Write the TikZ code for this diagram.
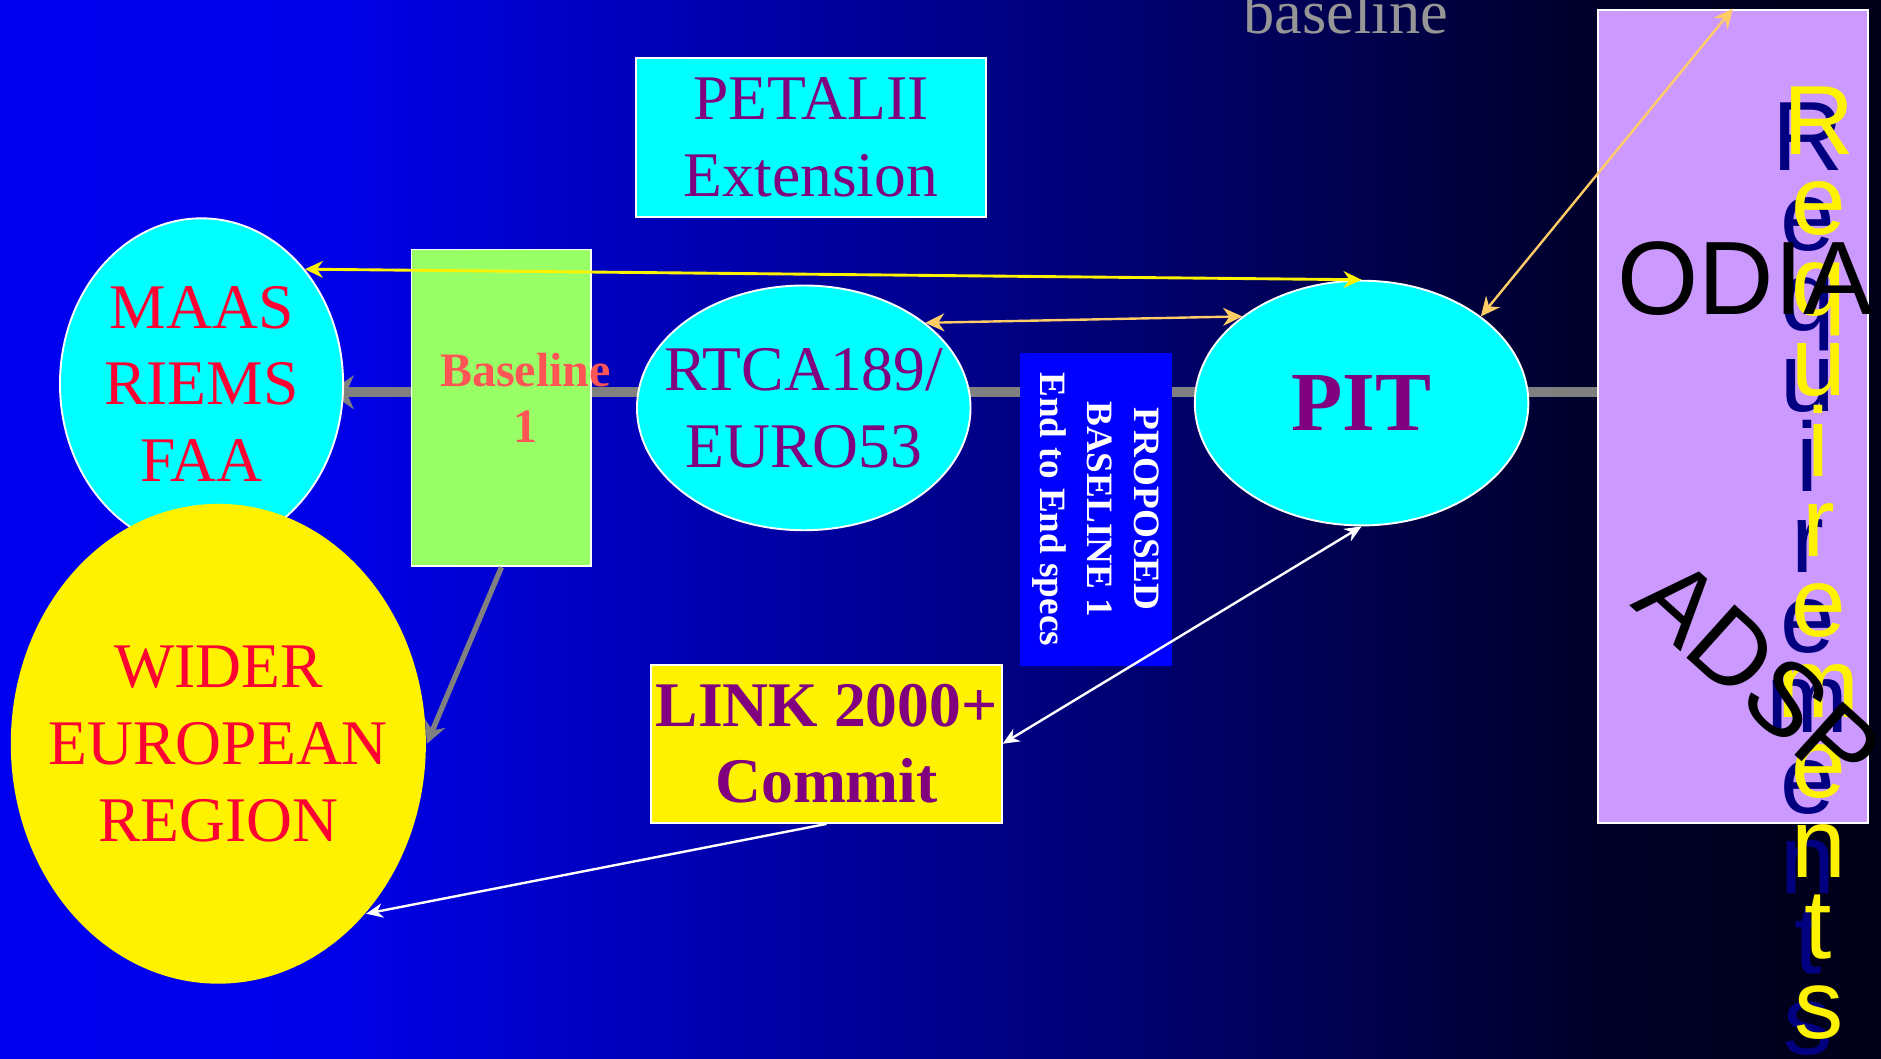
\documentclass[tikz,border=0pt]{standalone}
\usepackage{fontspec}
\setmainfont{Liberation Serif}
\newfontfamily\arialfont{Liberation Sans}
\usetikzlibrary{
    arrows.meta,
    shapes.geometric, % ellipse nodes
    positioning
}

\definecolor{aqua}{RGB}{0,255,255}
\definecolor{plum}{RGB}{128,0,128}
\definecolor{slidered}{RGB}{255,0,51}
\definecolor{salmonred}{RGB}{255,85,85}
\definecolor{limegreen}{RGB}{153,255,102}
\definecolor{lilac}{RGB}{204,153,255}
\definecolor{amber}{RGB}{255,204,102}
\definecolor{specblue}{RGB}{0,0,255}
\definecolor{navyshade}{RGB}{0,0,128}
\definecolor{railgray}{RGB}{128,128,128}
\definecolor{ltgray}{RGB}{150,150,150}

\pgfdeclarehorizontalshading{slideshade}{100bp}{rgb(0bp)=(0,0,0.94); rgb(25bp)=(0,0,0.94); rgb(34bp)=(0,0,0.91); rgb(67.5bp)=(0,0,0.16); rgb(75bp)=(0,0,0.09); rgb(100bp)=(0,0,0.09)}

\pgfdeclarelayer{shade}
\pgfdeclarelayer{rail}
\pgfsetlayers{shade,rail,main}

\begin{document}
\begin{tikzpicture}[
    x=0.5pt, y=-0.5pt,
    ovalnode/.style = {ellipse, fill=aqua, draw=white, line width=0.8pt,
                       inner xsep=-12pt, inner ysep=0pt, align=center,
                       font=\fontsize{26.5}{32}\selectfont},
    boxnode/.style = {rectangle, draw=white, line width=0.8pt,
                      inner sep=0pt, align=center},
    sanstext/.style = {inner sep=0pt, font=\arialfont\fontsize{43.5}{48}\selectfont},
    reqtext/.style = {anchor=north, inner sep=0pt, align=center,
                      font=\arialfont\fontsize{41}{33.5}\selectfont},
    yellowarrow/.style = {draw=yellow, line width=1.2pt,
                          {Stealth[length=7.5pt,width=7pt]}-{Stealth[length=7.5pt,width=7pt]}},
    amberarrow/.style = {draw=amber, line width=1pt,
                         {Stealth[length=8pt,width=7.5pt]}-{Stealth[length=8pt,width=7.5pt]}},
    whitearrow/.style = {draw=white, line width=1pt, -{Stealth[length=7pt,width=6pt]}},
    grayarrow/.style = {draw=railgray, line width=2.2pt, -{Stealth[length=9pt,width=9pt]}}
]
    \useasboundingbox (0,0) rectangle (1568,882);
    \begin{pgfonlayer}{shade}
        \shade[shading=slideshade] (0,0) rectangle (1568,882);
    \end{pgfonlayer}

    \node[ovalnode, text=slidered, minimum width=118pt, minimum height=138pt] (MRF) at (168,320) {MAAS\\RIEMS\\FAA};
    \node[ovalnode, fill=yellow, draw=none, text=slidered, minimum width=173pt, minimum height=200pt] (WER) at (182,620) {WIDER\\EUROPEAN\\REGION};
    \node[boxnode, fill=limegreen, minimum width=75pt, minimum height=132pt] (BL) at (418,340) {};
    \node[align=center, inner sep=0pt, text=salmonred, font=\bfseries\fontsize{20}{23.5}\selectfont] (BLtext) at (438,331.5) {Baseline\\1};
    \node[boxnode, fill=aqua, text=plum, font=\fontsize{26.5}{32}\selectfont, minimum width=146pt, minimum height=66.5pt] (PET) at (676,114.5) {PETALII\\Extension};
    \node[ovalnode, text=plum, minimum width=139pt, minimum height=102pt] (RE) at (670,340) {RTCA189/\\EURO53};
    \node[ovalnode, text=plum, font=\bfseries\fontsize{35}{40}\selectfont, minimum width=139pt, minimum height=102pt] (PIT) at (1135,336) {PIT};
    \node[rectangle, fill=specblue, text=white, align=center, inner sep=0pt, rotate=-90,
          font=\bfseries\fontsize{15.5}{19.5}\selectfont,
          minimum width=130.5pt, minimum height=63.5pt] (PBE) at (913.5,424.5) {PROPOSED\\BASELINE 1\\End to End specs};
    \node[boxnode, fill=yellow, text=plum, font=\bfseries\fontsize{26.5}{32}\selectfont, minimum width=146pt, minimum height=66pt] (LC) at (689,620) {LINK 2000+\\Commit};
    \node[boxnode, fill=lilac, minimum width=112.5pt, minimum height=339pt] (RQ) at (1444.5,347) {};

    \node[anchor=base, inner sep=0pt, text=ltgray, font=\fontsize{26}{30}\selectfont] (BSL) at (1122,28) {baseline};
    \node[reqtext, text=navyshade] (REQshadow) at (1507,85) {R\\e\\q\\u\\i\\r\\e\\m\\e\\n\\t\\s};
    \node[reqtext, text=yellow] (REQ) at (1516,72) {R\\e\\q\\u\\i\\r\\e\\m\\e\\n\\t\\s};
    \node[sanstext, anchor=base west] (ODIA) at (1348,262) {ODIA};
    \node[sanstext, rotate=-42] (ADSP) at (1466,562) {ADSP};

    \begin{pgfonlayer}{rail}
        \draw[draw=railgray, line width=4pt, -{Stealth[length=10pt,width=14pt,inset=3pt]}, shorten >=-6pt]
            (RQ.west |- 0,327) -- (MRF.east |- 0,327);
    \end{pgfonlayer}

    \draw[yellowarrow] (MRF.48) -- (PIT.north);
    \draw[amberarrow] (RE.35) -- (PIT.144);
    \draw[amberarrow] (PIT.36) -- (RQ.north);
    \draw[whitearrow, {Stealth[length=7pt,width=6pt]}-{Stealth[length=7pt,width=6pt]}] (PIT.south) -- (LC.east);
    \draw[whitearrow] (LC.south) -- (WER.-49);
    \draw[grayarrow] (BL.south) -- (WER.east);

\end{tikzpicture}
\end{document}
